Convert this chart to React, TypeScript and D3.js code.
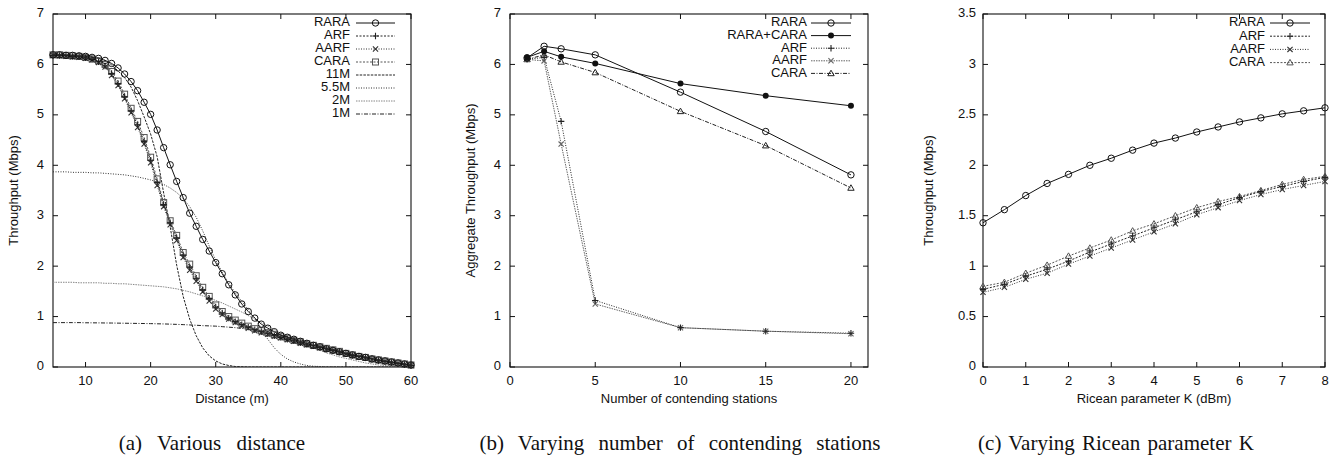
import React, { useEffect, useRef } from "react";
import * as d3 from "d3";

// (a) throughput vs distance
const distances = [5, 6, 7, 8, 9, 10, 11, 12, 13, 14, 15, 16, 17, 18, 19, 20, 21, 22, 23, 24, 25, 26, 27, 28, 29, 30, 31, 32, 33, 34, 35, 36, 37, 38, 39, 40, 41, 42, 43, 44, 45, 46, 47, 48, 49, 50, 51, 52, 53, 54, 55, 56, 57, 58, 59, 60];
const raraA = [6.19, 6.19, 6.18, 6.18, 6.17, 6.16, 6.14, 6.12, 6.08, 6.02, 5.93, 5.81, 5.66, 5.48, 5.25, 5.01, 4.70, 4.35, 4.01, 3.68, 3.36, 3.05, 2.79, 2.53, 2.30, 2.07, 1.85, 1.63, 1.43, 1.25, 1.10, 0.97, 0.85, 0.77, 0.70, 0.63, 0.59, 0.55, 0.51, 0.47, 0.43, 0.40, 0.36, 0.33, 0.30, 0.27, 0.24, 0.21, 0.19, 0.16, 0.14, 0.12, 0.10, 0.08, 0.06, 0.04];
const arfA = [6.18, 6.18, 6.17, 6.16, 6.15, 6.13, 6.10, 6.05, 5.97, 5.82, 5.62, 5.36, 5.08, 4.80, 4.47, 4.10, 3.66, 3.22, 2.86, 2.56, 2.22, 1.98, 1.76, 1.53, 1.36, 1.19, 1.07, 0.97, 0.90, 0.84, 0.79, 0.74, 0.70, 0.66, 0.62, 0.59, 0.55, 0.52, 0.48, 0.45, 0.42, 0.39, 0.36, 0.33, 0.30, 0.26, 0.23, 0.21, 0.18, 0.16, 0.13, 0.11, 0.09, 0.07, 0.05, 0.03];
const aarfA = [6.18, 6.17, 6.16, 6.15, 6.14, 6.12, 6.09, 6.04, 5.95, 5.78, 5.58, 5.32, 5.04, 4.75, 4.42, 4.05, 3.60, 3.18, 2.82, 2.51, 2.17, 1.92, 1.70, 1.49, 1.31, 1.15, 1.04, 0.95, 0.88, 0.82, 0.77, 0.72, 0.68, 0.65, 0.61, 0.58, 0.54, 0.51, 0.47, 0.44, 0.41, 0.38, 0.35, 0.32, 0.29, 0.26, 0.23, 0.20, 0.18, 0.15, 0.13, 0.11, 0.09, 0.07, 0.05, 0.03];
const caraA = [6.19, 6.19, 6.18, 6.17, 6.16, 6.14, 6.11, 6.07, 6.00, 5.86, 5.67, 5.41, 5.13, 4.87, 4.55, 4.16, 3.73, 3.26, 2.90, 2.61, 2.27, 2.04, 1.81, 1.58, 1.40, 1.23, 1.10, 1.00, 0.93, 0.87, 0.81, 0.76, 0.72, 0.68, 0.64, 0.60, 0.57, 0.53, 0.50, 0.46, 0.43, 0.40, 0.37, 0.34, 0.31, 0.27, 0.24, 0.21, 0.19, 0.16, 0.14, 0.12, 0.10, 0.08, 0.06, 0.04];
const m11 = [6.20, 6.20, 6.20, 6.19, 6.19, 6.18, 6.16, 6.13, 6.08, 5.99, 5.87, 5.74, 5.55, 5.28, 4.96, 4.62, 4.17, 3.45, 2.78, 2.02, 1.40, 0.95, 0.62, 0.38, 0.22, 0.12, 0.06, 0.03, 0.01, 0.005, 0, 0, 0, 0, 0, 0, 0, 0, 0, 0, 0, 0, 0, 0, 0, 0, 0, 0, 0, 0, 0, 0, 0, 0, 0, 0];
const m55 = [3.87, 3.87, 3.87, 3.86, 3.86, 3.86, 3.85, 3.85, 3.84, 3.83, 3.82, 3.81, 3.79, 3.77, 3.74, 3.71, 3.67, 3.62, 3.55, 3.46, 3.34, 3.18, 2.97, 2.70, 2.40, 2.12, 1.88, 1.66, 1.47, 1.30, 1.14, 0.97, 0.77, 0.55, 0.38, 0.25, 0.16, 0.10, 0.06, 0.03, 0.015, 0.01, 0, 0, 0, 0, 0, 0, 0, 0, 0, 0, 0, 0, 0, 0];
const m2 = [1.68, 1.68, 1.68, 1.68, 1.67, 1.67, 1.67, 1.67, 1.66, 1.66, 1.65, 1.65, 1.64, 1.63, 1.62, 1.61, 1.60, 1.59, 1.57, 1.55, 1.52, 1.49, 1.45, 1.41, 1.37, 1.32, 1.27, 1.21, 1.15, 1.09, 1.02, 0.95, 0.88, 0.81, 0.74, 0.67, 0.61, 0.55, 0.49, 0.43, 0.38, 0.33, 0.28, 0.24, 0.20, 0.17, 0.14, 0.11, 0.08, 0.06, 0.04, 0.03, 0.02, 0.01, 0.005, 0];
const m1 = [0.88, 0.88, 0.88, 0.88, 0.88, 0.877, 0.876, 0.875, 0.873, 0.872, 0.870, 0.868, 0.866, 0.864, 0.862, 0.86, 0.857, 0.854, 0.85, 0.845, 0.84, 0.834, 0.828, 0.82, 0.815, 0.81, 0.80, 0.79, 0.78, 0.765, 0.75, 0.73, 0.71, 0.69, 0.66, 0.63, 0.60, 0.57, 0.54, 0.50, 0.46, 0.42, 0.39, 0.35, 0.32, 0.28, 0.25, 0.22, 0.195, 0.17, 0.145, 0.12, 0.10, 0.08, 0.06, 0.04];

// (b) aggregate throughput vs number of stations
const stations = [1, 2, 3, 5, 10, 15, 20];
const raraB = [6.13, 6.36, 6.31, 6.19, 5.45, 4.67, 3.81];
const raraCaraB = [6.14, 6.26, 6.15, 6.02, 5.62, 5.38, 5.18];
const arfB = [6.10, 6.14, 4.87, 1.32, 0.78, 0.71, 0.67];
const aarfB = [6.10, 6.07, 4.42, 1.25, 0.78, 0.71, 0.66];
const caraB = [6.10, 6.19, 6.05, 5.84, 5.07, 4.39, 3.55];

// (c) throughput vs Ricean K
const ricean = [0, 0.5, 1, 1.5, 2, 2.5, 3, 3.5, 4, 4.5, 5, 5.5, 6, 6.5, 7, 7.5, 8];
const raraC = [1.43, 1.56, 1.70, 1.82, 1.91, 2.00, 2.07, 2.15, 2.22, 2.27, 2.33, 2.38, 2.43, 2.47, 2.51, 2.54, 2.57];
const arfC = [0.77, 0.82, 0.90, 0.97, 1.05, 1.14, 1.22, 1.30, 1.38, 1.46, 1.54, 1.61, 1.68, 1.74, 1.79, 1.84, 1.88];
const aarfC = [0.74, 0.79, 0.87, 0.93, 1.02, 1.10, 1.18, 1.26, 1.34, 1.42, 1.51, 1.58, 1.65, 1.71, 1.76, 1.80, 1.84];
const caraC = [0.80, 0.84, 0.93, 1.01, 1.10, 1.18, 1.26, 1.35, 1.42, 1.50, 1.58, 1.64, 1.69, 1.75, 1.81, 1.86, 1.89];

const xTicksA = [10, 20, 30, 40, 50, 60];
const yTicksA = [0, 1, 2, 3, 4, 5, 6, 7];
const xTicksB = [0, 5, 10, 15, 20];
const xTicksC = [0, 1, 2, 3, 4, 5, 6, 7, 8];
const yTicksC = [0, 0.5, 1, 1.5, 2, 2.5, 3, 3.5];

const SANS = "'Liberation Sans', Arial, Helvetica, sans-serif";
const SERIF = "'Liberation Serif', 'Times New Roman', serif";

type Series = {
  name: string;
  xs: number[];
  ys: number[];
  color: string;
  dash: string | null;
  marker: string | null;
};

function drawMarker(g: any, kind: string | null, x: number, y: number, color: string) {
  if (!kind) return;
  if (kind === "circle") {
    g.append("circle").attr("cx", x).attr("cy", y).attr("r", 3.2)
      .attr("fill", "none").attr("stroke", color).attr("stroke-width", 1);
  } else if (kind === "dot") {
    g.append("circle").attr("cx", x).attr("cy", y).attr("r", 3)
      .attr("fill", color).attr("stroke", "none");
  } else if (kind === "plus") {
    g.append("path").attr("d", `M${x - 3.2},${y}H${x + 3.2}M${x},${y - 3.2}V${y + 3.2}`)
      .attr("stroke", color).attr("stroke-width", 1.1).attr("fill", "none");
  } else if (kind === "cross") {
    g.append("path").attr("d", `M${x - 2.6},${y - 2.6}L${x + 2.6},${y + 2.6}M${x - 2.6},${y + 2.6}L${x + 2.6},${y - 2.6}`)
      .attr("stroke", color).attr("stroke-width", 1.1).attr("fill", "none");
  } else if (kind === "square") {
    g.append("rect").attr("x", x - 3).attr("y", y - 3).attr("width", 6).attr("height", 6)
      .attr("fill", "none").attr("stroke", color).attr("stroke-width", 1);
  } else if (kind === "triangle") {
    g.append("path").attr("d", `M${x},${y - 3.2}L${x + 3.2},${y + 2.3}L${x - 3.2},${y + 2.3}Z`)
      .attr("fill", "none").attr("stroke", color).attr("stroke-width", 1);
  }
}

function drawPanel(svg: any, cfg: any) {
  const { left, right, top, bottom } = cfg;
  const x = d3.scaleLinear().domain(cfg.xDomain).range([left, right]);
  const y = d3.scaleLinear().domain(cfg.yDomain).range([bottom, top]);
  const g = svg.append("g");

  // frame
  g.append("rect").attr("x", left).attr("y", top).attr("width", right - left).attr("height", bottom - top)
    .attr("fill", "none").attr("stroke", "#111").attr("stroke-width", 1.1);

  const tl = 5;
  cfg.xTicks.forEach((t: number) => {
    const px = x(t);
    g.append("line").attr("x1", px).attr("x2", px).attr("y1", bottom).attr("y2", bottom - tl).attr("stroke", "#111");
    g.append("line").attr("x1", px).attr("x2", px).attr("y1", top).attr("y2", top + tl).attr("stroke", "#111");
    g.append("text").attr("x", px).attr("y", bottom + 15).attr("text-anchor", "middle")
      .attr("dominant-baseline", "middle").attr("font-family", SANS).attr("font-size", 13).attr("fill", "#111")
      .text(cfg.xFmt(t));
  });
  cfg.yTicks.forEach((t: number) => {
    const py = y(t);
    g.append("line").attr("x1", left).attr("x2", left + tl).attr("y1", py).attr("y2", py).attr("stroke", "#111");
    g.append("line").attr("x1", right).attr("x2", right - tl).attr("y1", py).attr("y2", py).attr("stroke", "#111");
    g.append("text").attr("x", left - cfg.yLabelGap).attr("y", py).attr("text-anchor", "end")
      .attr("dominant-baseline", "middle").attr("font-family", SANS).attr("font-size", 13).attr("fill", "#111")
      .text(cfg.yFmt(t));
  });

  g.append("text").attr("x", (left + right) / 2).attr("y", bottom + 33).attr("text-anchor", "middle")
    .attr("dominant-baseline", "middle").attr("font-family", SANS).attr("font-size", 13).attr("fill", "#111")
    .text(cfg.xTitle);
  g.append("text").attr("transform", `translate(${cfg.yTitleX},${(top + bottom) / 2}) rotate(-90)`)
    .attr("text-anchor", "middle").attr("dominant-baseline", "middle").attr("font-family", SANS)
    .attr("font-size", 13).attr("fill", "#111").text(cfg.yTitle);

  const line = d3.line<[number, number]>().x((d) => x(d[0])).y((d) => y(d[1]));
  const clipId = "clip" + cfg.id;
  svg.append("clipPath").attr("id", clipId).append("rect")
    .attr("x", left).attr("y", top).attr("width", right - left).attr("height", bottom - top);
  const plot = g.append("g").attr("clip-path", `url(#${clipId})`);

  // draw in reverse so first series is on top
  const ss: Series[] = cfg.series.slice().reverse();
  ss.forEach((s) => {
    const pts: [number, number][] = s.xs.map((v, i) => [v, s.ys[i]]);
    plot.append("path").attr("d", line(pts)).attr("fill", "none").attr("stroke", s.color)
      .attr("stroke-width", 1).attr("stroke-dasharray", s.dash);
    const mg = g.append("g");
    if (s.marker) pts.forEach((p) => drawMarker(mg, s.marker, x(p[0]), y(p[1]), s.color));
  });

  // legend
  cfg.series.forEach((s: Series, i: number) => {
    const ly = cfg.legend.y0 + i * cfg.legend.dy;
    g.append("text").attr("x", cfg.legend.textX).attr("y", ly).attr("text-anchor", "end")
      .attr("dominant-baseline", "middle").attr("font-family", SANS).attr("font-size", 13).attr("fill", "#111")
      .text(s.name);
    g.append("line").attr("x1", cfg.legend.x1).attr("x2", cfg.legend.x2).attr("y1", ly).attr("y2", ly)
      .attr("stroke", s.color).attr("stroke-width", 1).attr("stroke-dasharray", s.dash);
    drawMarker(g, s.marker, (cfg.legend.x1 + cfg.legend.x2) / 2, ly, s.color);
  });

  svg.append("text").attr("x", cfg.captionX).attr("y", 445).attr("text-anchor", "middle")
    .attr("dominant-baseline", "middle").attr("font-family", SERIF).attr("font-size", 21)
    .attr("word-spacing", cfg.captionSpacing).attr("fill", "#111").text(cfg.caption);
}

export default function App() {
  const ref = useRef<SVGSVGElement | null>(null);

  useEffect(() => {
    const svg = d3.select(ref.current);
    svg.selectAll("*").remove();
    const intFmt = (t: number) => String(t);

    drawPanel(svg, {
      id: "a", left: 53, right: 411, top: 14, bottom: 367,
      xDomain: [5, 60], yDomain: [0, 7], xTicks: xTicksA, yTicks: yTicksA,
      xFmt: intFmt, yFmt: intFmt, yLabelGap: 9,
      xTitle: "Distance (m)", yTitle: "Throughput (Mbps)", yTitleX: 15,
      legend: { textX: 350, x1: 356, x2: 395, y0: 23, dy: 13 },
      caption: "(a) Various distance", captionX: 212, captionSpacing: 10,
      series: [
        { name: "RARA", xs: distances, ys: raraA, color: "#111", dash: null, marker: "circle" },
        { name: "ARF", xs: distances, ys: arfA, color: "#222", dash: "2,1.5", marker: "plus" },
        { name: "AARF", xs: distances, ys: aarfA, color: "#333", dash: "1,1.5", marker: "cross" },
        { name: "CARA", xs: distances, ys: caraA, color: "#555", dash: "2,1.5", marker: "square" },
        { name: "11M", xs: distances, ys: m11, color: "#222", dash: "2.5,1.2", marker: null },
        { name: "5.5M", xs: distances, ys: m55, color: "#333", dash: "1,1.5", marker: null },
        { name: "2M", xs: distances, ys: m2, color: "#888", dash: "1.5,1", marker: null },
        { name: "1M", xs: distances, ys: m1, color: "#222", dash: "4,1.5,1,1.5", marker: null },
      ],
    });

    drawPanel(svg, {
      id: "b", left: 510, right: 868, top: 14, bottom: 367,
      xDomain: [0, 21], yDomain: [0, 7], xTicks: xTicksB, yTicks: yTicksA,
      xFmt: intFmt, yFmt: intFmt, yLabelGap: 9,
      xTitle: "Number of contending stations", yTitle: "Aggregate Throughput (Mbps)", yTitleX: 472,
      legend: { textX: 807, x1: 811, x2: 851, y0: 23, dy: 12.6 },
      caption: "(b) Varying number of contending stations", captionX: 680, captionSpacing: 9,
      series: [
        { name: "RARA", xs: stations, ys: raraB, color: "#111", dash: null, marker: "circle" },
        { name: "RARA+CARA", xs: stations, ys: raraCaraB, color: "#111", dash: null, marker: "dot" },
        { name: "ARF", xs: stations, ys: arfB, color: "#222", dash: "1,1.5", marker: "plus" },
        { name: "AARF", xs: stations, ys: aarfB, color: "#666", dash: "1.5,1", marker: "cross" },
        { name: "CARA", xs: stations, ys: caraB, color: "#222", dash: "4,1.5,1,1.5", marker: "triangle" },
      ],
    });

    drawPanel(svg, {
      id: "c", left: 983, right: 1325, top: 14, bottom: 367,
      xDomain: [0, 8], yDomain: [0, 3.5], xTicks: xTicksC, yTicks: yTicksC,
      xFmt: intFmt, yFmt: (t: number) => String(t), yLabelGap: 7,
      xTitle: "Ricean parameter K (dBm)", yTitle: "Throughput (Mbps)", yTitleX: 930,
      legend: { textX: 1265, x1: 1270, x2: 1310, y0: 23, dy: 13.2 },
      caption: "(c) Varying Ricean parameter K", captionX: 1116, captionSpacing: 2,
      series: [
        { name: "RARA", xs: ricean, ys: raraC, color: "#111", dash: null, marker: "circle" },
        { name: "ARF", xs: ricean, ys: arfC, color: "#222", dash: "2,1.5", marker: "plus" },
        { name: "AARF", xs: ricean, ys: aarfC, color: "#333", dash: "1,1.5", marker: "cross" },
        { name: "CARA", xs: ricean, ys: caraC, color: "#555", dash: "2,1.5", marker: "triangle" },
      ],
    });
  }, []);

  return (
    <svg
      ref={ref}
      width={1335}
      height={457}
      style={{ position: "absolute", left: 0, top: 0, background: "#fff" }}
    />
  );
}
